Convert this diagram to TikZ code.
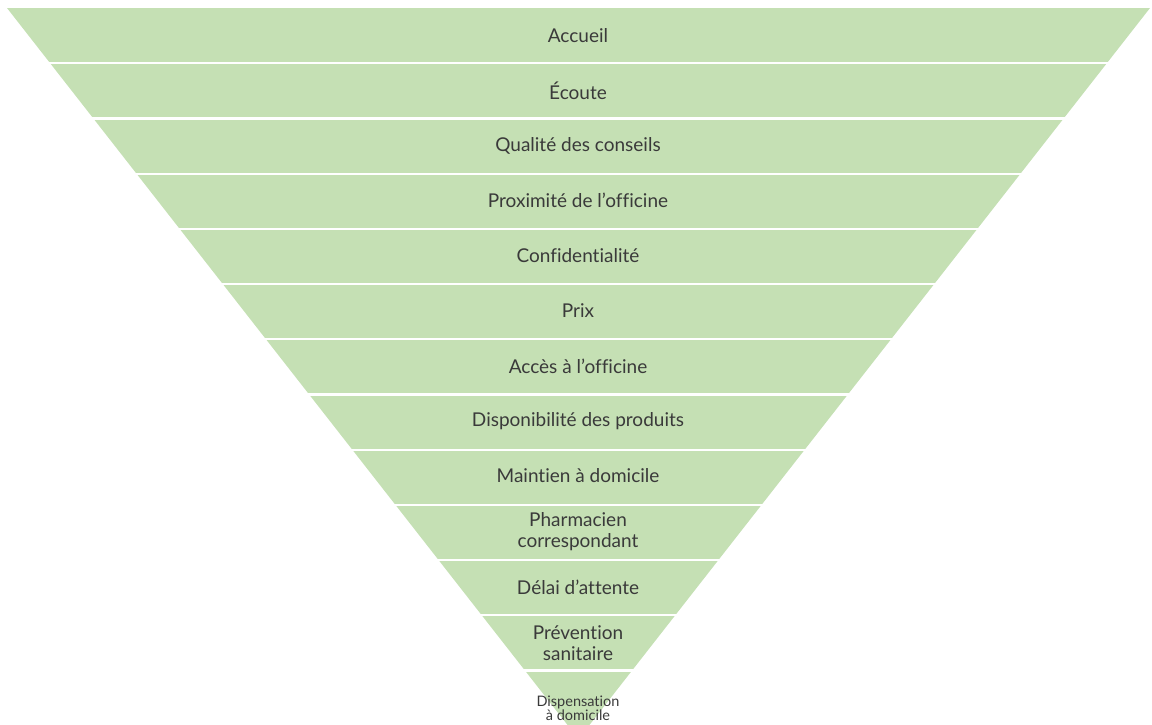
\documentclass[tikz,border=0pt]{standalone}
\usepackage{fontspec}
\setmainfont{Lato}[Ligatures=NoCommon]
\usepackage{tikz}
\definecolor{bandgreen}{HTML}{C5E0B4}
\definecolor{txtgrey}{HTML}{3A3A3A}
\tikzset{
  band/.style  = {fill=bandgreen, draw=none},
  sep/.style   = {draw=white, line width=2.2pt},
  lbl/.style   = {font=\fontsize{19}{21}\selectfont, text=txtgrey, align=center, inner sep=1pt},
  lblsm/.style = {font=\fontsize{14.5}{13}\selectfont, text=txtgrey, align=center, inner sep=0pt},
}
\begin{document}
\begin{tikzpicture}[x=1pt,y=-1pt]
  \useasboundingbox (0,0) rectangle (1152,724);
  % funnel body, cut off at the bottom edge
  \begin{scope}
    \clip (0,0) rectangle (1152,724);
    \fill[band] (7,8) -- (1150,8) -- (578.5,739) -- cycle;
  \end{scope}
  % white gaps between the bands
  \foreach \i in {1,...,12} {
    \pgfmathsetmacro{\yy}{8+55.2*\i}
    \pgfmathsetmacro{\xl}{7+0.782*(\yy-8)-2}
    \pgfmathsetmacro{\xr}{1150-0.782*(\yy-8)+2}
    \coordinate (gl\i) at (\xl,\yy);
    \coordinate (gr\i) at (\xr,\yy);
    \draw[sep] (gl\i) -- (gr\i);
  }
  % labels
  \node[lbl] (accueil) at (578,35.5) {Accueil};
  \node[lbl] (ecoute) at (578,90.5) {Écoute};
  \node[lbl] (conseils) at (578,145.5) {Qualité des conseils};
  \node[lbl] (proximite) at (578,200.5) {Proximité de l’officine};
  \node[lbl] (confid) at (578,256) {Confidentialité};
  \node[lbl] (prix) at (578,311) {Prix};
  \node[lbl] (acces) at (578,366) {Accès à l’officine};
  \node[lbl] (dispo) at (578,421) {Disponibilité des produits};
  \node[lbl] (maintien) at (578,476) {Maintien à domicile};
  \node[lbl] (pharmacien) at (578,532) {Pharmacien\\correspondant};
  \node[lbl] (delai) at (578,587) {Délai d’attente};
  \node[lbl] (prevention) at (578,643) {Prévention\\sanitaire};
  \node[lblsm] (dispensation) at (578,708) {Dispensation\\à domicile};
\end{tikzpicture}
\end{document}
